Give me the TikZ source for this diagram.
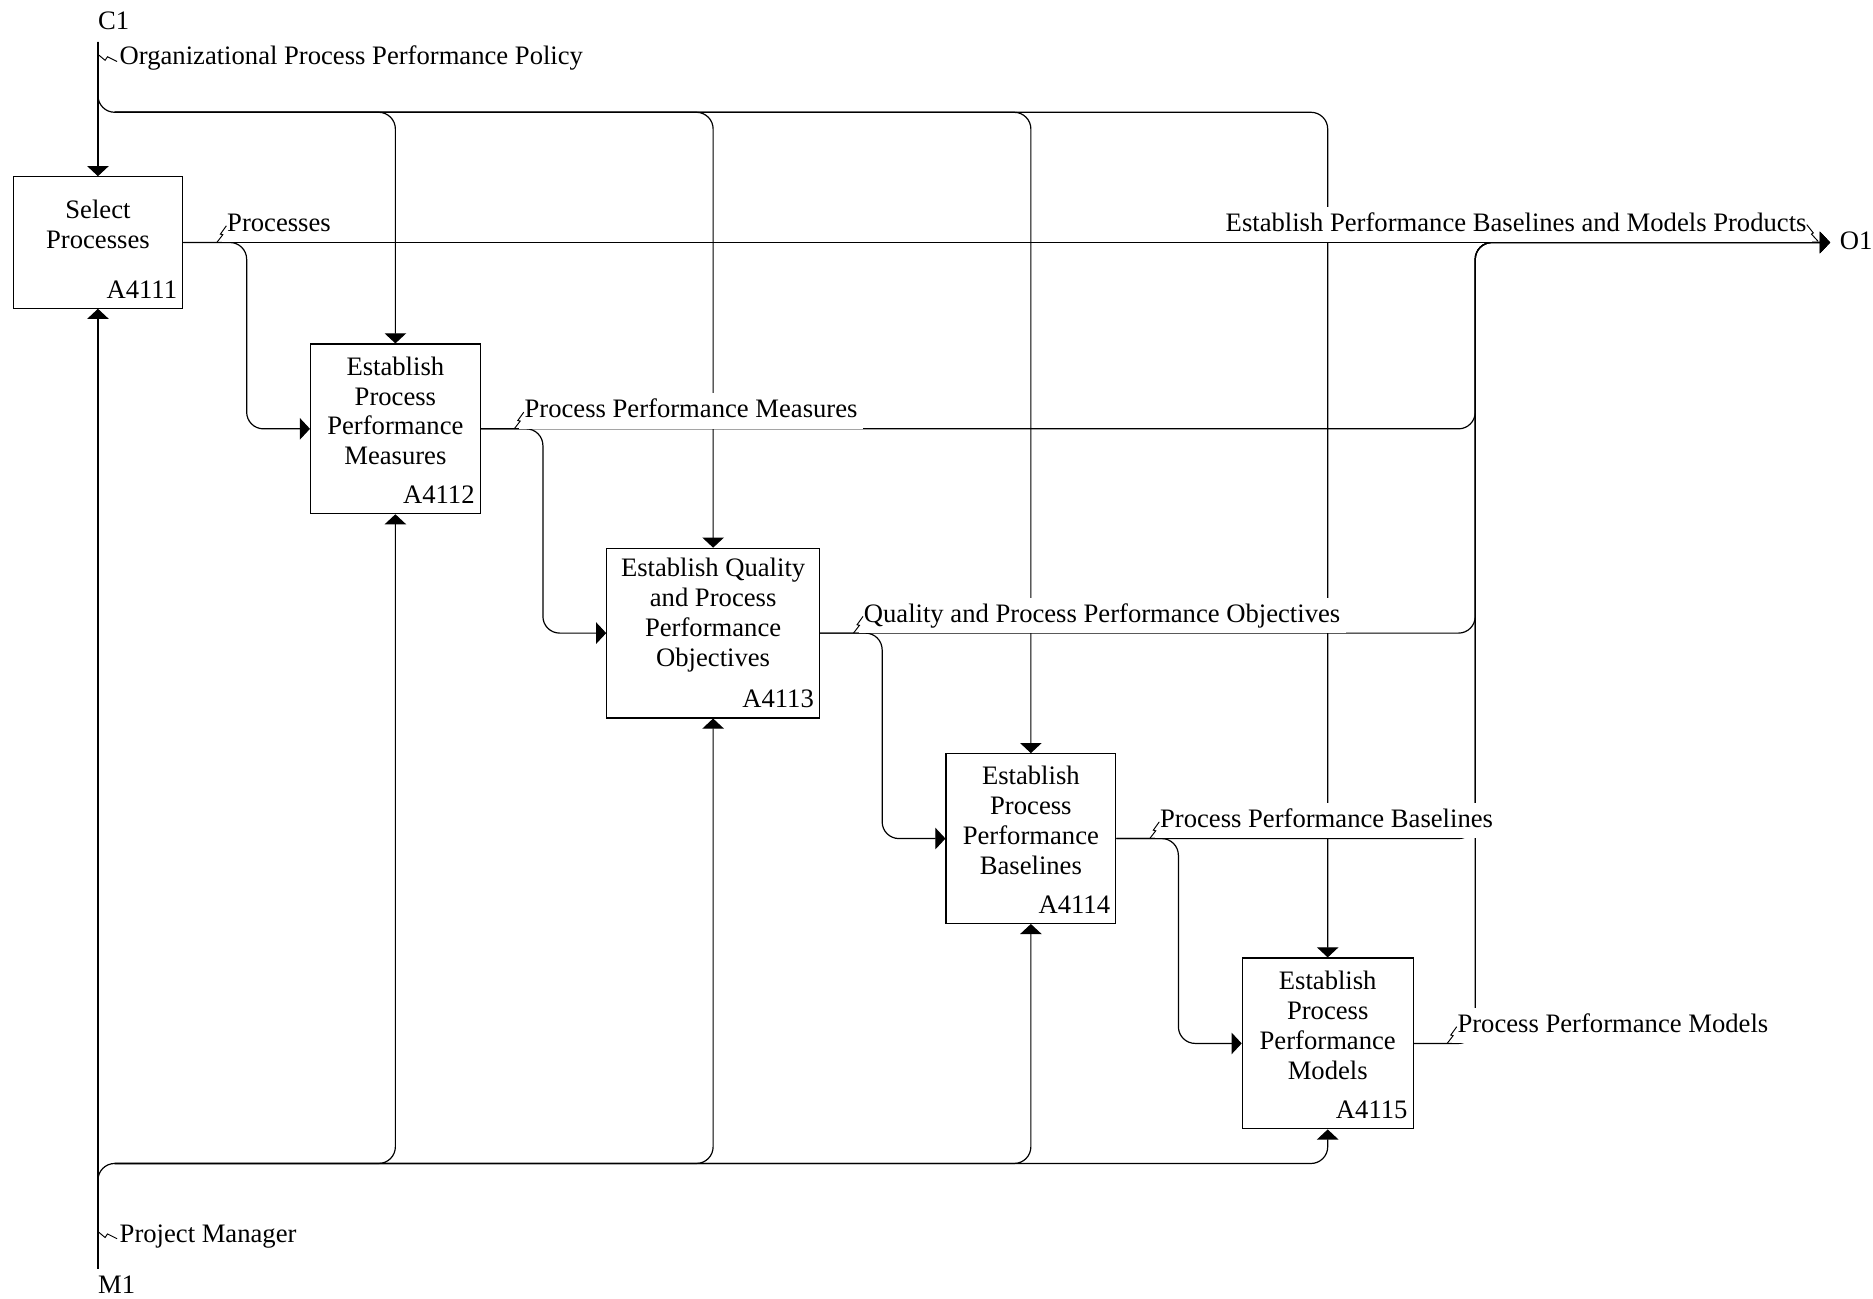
\documentclass[tikz,border=0pt]{standalone}
\usepackage{fontspec}
\setmainfont{Liberation Serif}
\usetikzlibrary{arrows.meta}
\tikzset{
  actbox/.style={draw, line width=1bp, inner sep=0pt},
  flow/.style={line width=1bp, rounded corners=14bp},
  flowtip/.style={-{Triangle[length=8.5bp,width=18bp]}},
  arrowlabel/.style={fill=white, inner sep=4.5bp, text height=16bp, text depth=4.5bp},
  squig/.pic={\draw[line width=0.8bp] (0,0) -- (5,-6.5) -- (3,-7) -- (8,-14);},
  sidesquig/.pic={\draw[line width=0.8bp] (0,0) -- (6,5) -- (8,2) -- (16,6);}
}
\begin{document}
\begin{tikzpicture}[x=1bp, y=-1bp, font=\fontsize{22.3bp}{25bp}\selectfont]
\useasboundingbox (0,0) rectangle (1568,1087);
\foreach \n/\cx/\cy/\w/\h/\txt in {%
  1/82/203/142/110/{Select\\Processes},%
  2/331/359/142/142/{Establish\\Process\\Performance\\Measures},%
  3/597/530/178/142/{Establish Quality\\and Process\\Performance\\Objectives},%
  4/863/702/142/142/{Establish\\Process\\Performance\\Baselines},%
  5/1111.5/873.5/143/143/{Establish\\Process\\Performance\\Models}}{
  \node[actbox, minimum width=\w bp, minimum height=\h bp] (b\n) at (\cx,\cy) {};
  \node[align=center] (t\n) at ([yshift=15bp]b\n.center) {\txt};
  \node[anchor=base east, inner sep=0pt] (n\n) at ([xshift=-5bp,yshift=9bp]b\n.south east) {A411\n};
}
\coordinate (c1) at (82,35);
\coordinate (m1) at (82,1062);
\coordinate (o1) at (1532,203);
\coordinate (cbus) at (82,94);
\coordinate (mbus) at (82,974);
\coordinate (col) at (1235,203);

\draw[flow, flowtip] (c1) -- (b1.north);
\draw[flow, flowtip] (c1) |- (b5.north |- cbus) -- (b5.north);
\foreach \n in {2,3,4}
  \draw[flow, flowtip] ([xshift=14bp]cbus) -| (b\n.north);
\draw[flow, flowtip] (m1) -- (b1.south);
\draw[flow, flowtip] (m1) |- (b5.south |- mbus) -- (b5.south);
\foreach \n in {2,3,4}
  \draw[flow, flowtip] ([xshift=14bp]mbus) -| (b\n.south);
\draw[flow, flowtip] (b1.east) -- (o1);
\foreach \n [evaluate=\n as \m using int(\n+1)] in {1,...,4}
  \draw[flow, flowtip] (b\n.east) -| ([xshift=-53bp]b\m.west) -- (b\m.west);
\foreach \n in {2,...,5}
  \draw[flow, flowtip] (b\n.east) -| (col) -- (o1);

\foreach \n/\txt in {1/Processes, 2/Process Performance Measures,
    3/Quality and Process Performance Objectives,
    4/Process Performance Baselines, 5/Process Performance Models}{
  \node[arrowlabel, anchor=south west] (l\n) at ([xshift=32bp]b\n.east) {\txt};
  \pic at ([xshift=28bp]b\n.east) {squig};
}
\node[arrowlabel, anchor=south east] (lo) at ([xshift=-15bp]o1) {Establish Performance Baselines and Models Products};
\draw[line width=0.8bp] ([shift={(-19.5,-15)}]o1) -- ++(5.5,7) -- ++(-1.5,1) -- ++(5.5,6);
\node[anchor=base west, inner sep=0pt] (o1t) at ([xshift=8bp,yshift=-6bp]o1) {O1};

\node[anchor=base west, inner sep=0pt] (c1t) at ([yshift=10bp]c1) {C1};
\pic at ([yshift=-10.5bp]c1) {sidesquig};
\node[anchor=base west, inner sep=0pt] (pol) at ([xshift=18bp,yshift=-18.6bp]c1) {Organizational Process Performance Policy};
\node[anchor=base west, inner sep=0pt] (m1t) at ([yshift=-21bp]m1) {M1};
\pic at ([yshift=31bp]m1) {sidesquig};
\node[anchor=base west, inner sep=0pt] (pm) at ([xshift=18bp,yshift=22bp]m1) {Project Manager};
\end{tikzpicture}
\end{document}
